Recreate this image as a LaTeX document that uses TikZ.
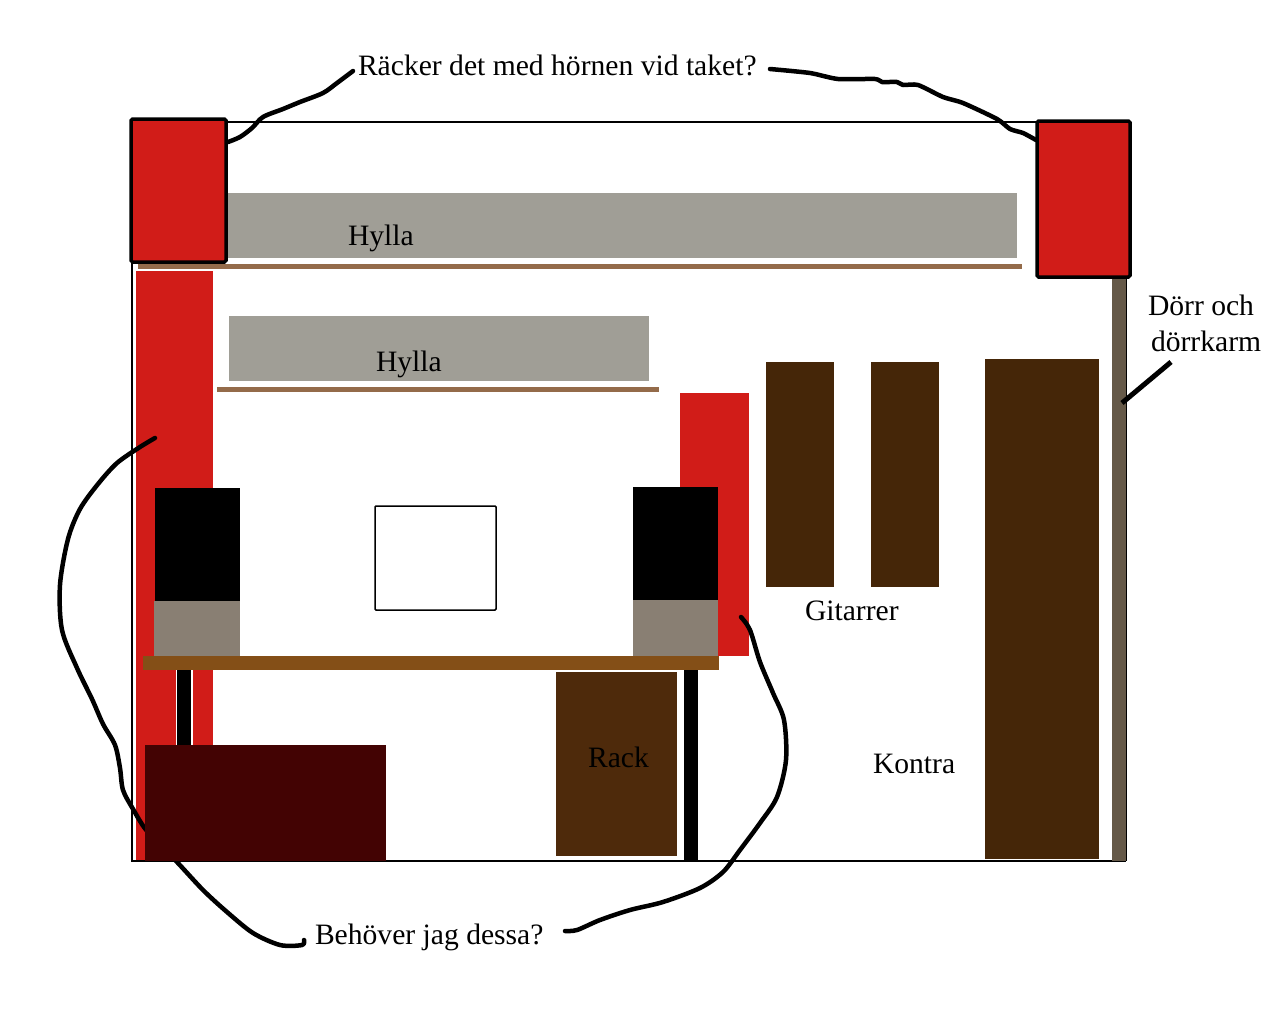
\documentclass[tikz,border=0pt]{standalone}
\usepackage{fontspec}
\setmainfont{Liberation Serif}
\definecolor{redc}{HTML}{D11C18}
\definecolor{shelfgray}{HTML}{A09E96}
\definecolor{shelfbrown}{HTML}{946B4A}
\definecolor{guitar}{HTML}{452608}
\definecolor{rackc}{HTML}{4E2A0B}
\definecolor{tablec}{HTML}{844F17}
\definecolor{spk}{HTML}{897F73}
\definecolor{darkred}{HTML}{430303}
\definecolor{doorc}{HTML}{655948}
\tikzset{
  x=1pt,y=-1pt,
  wall/.style={draw=black,line width=1.5pt},
  box/.style={fill=#1,draw=none},
  trap/.style={fill=redc,draw=black,line width=3.5pt,rounded corners=1.5pt},
  scribble/.style={draw=black,line width=4.5pt,line cap=round,line join=round},
  lbl/.style={anchor=base west,inner sep=0pt,outer sep=0pt,font=\fontsize{29.6}{29.6}\selectfont}
}
\begin{document}
\begin{tikzpicture}
\useasboundingbox (0,0) rectangle (1276,1020);
\fill[white] (0,0) rectangle (1276,1020);
% room
\draw[wall] (132,122) -- (132,861) -- (1126,861);
\draw[wall] (132,122) -- (1036,122);
% door
\fill[doorc] (1112,277) rectangle (1126,861);
\draw[line width=1pt] (1126.5,277) -- (1126.5,861);
% shelves
\fill[shelfgray] (228,193) rectangle (1017,258);
\fill[shelfbrown] (138,264) rectangle (1022,269);
\fill[shelfgray] (229,316) rectangle (649,381);
\fill[shelfbrown] (217,387) rectangle (659,392);
% red absorbers
\fill[redc] (136,271) rectangle (213,860);
\fill[redc] (680,393) rectangle (749,656);
% guitars, contra
\fill[guitar] (766,362) rectangle (834,587);
\fill[guitar] (871,362) rectangle (939,587);
\fill[guitar] (985,359) rectangle (1099,859);
% monitor
\draw[black,fill=white,line width=1.5pt,rounded corners=1pt] (375,506) rectangle (496,610);
% legs
\fill[white] (176,670) rectangle (193,745);
\fill[black] (177,670) rectangle (191,745);
\fill[black] (684,670) rectangle (698,861);
% speakers
\fill[black] (155,488) rectangle (240,601);
\fill[spk] (154,601) rectangle (240,657);
\fill[black] (633,487) rectangle (718,600);
\fill[spk] (633,600) rectangle (718,656);
% table
\fill[tablec] (143,656) rectangle (719,670);
% rack
\fill[rackc] (556,672) rectangle (677,856);
% scribbles (left one runs under the sofa)
\draw[scribble] plot[smooth,tension=0.5] coordinates {(155,438) (140,447) (117,463) (98,484) (80,509) (68,539) (60,585) (62,630) (77,668) (92,699) (103,724) (115,745) (120,768) (123,790) (133,809) (147,831) (177,862) (203,890) (227,912) (253,933) (280,945) (302,945) (304,940)};
\fill[darkred] (145,745) rectangle (386,861);
\draw[scribble] plot[smooth,tension=0.5] coordinates {(741,617) (750,630) (760,662) (773,693) (784,720) (786,760) (777,797) (760,823) (740,850) (723,872) (700,888) (663,902) (630,910) (600,920) (577,930) (565,931)};
\draw[scribble] plot[smooth,tension=0.5] coordinates {(228,142) (240,137) (252,128) (263,117) (283,109) (300,102) (323,93) (337,83) (353,71)};
\draw[scribble] plot[smooth,tension=0.4] coordinates {(770,69) (810,73) (838,79) (875,79) (882,82) (897,82) (903,85) (918,85) (943,97) (963,103) (997,119) (1010,129) (1023,133) (1036,140)};
% corner traps
\draw[trap] (131,119) rectangle (226,262);
\draw[trap] (1037,121) rectangle (1130,277);
% door pointer
\coordinate (doorptr) at (1122,403);
\coordinate (doorlbl) at (1171,362);
\draw[black,line width=5pt] (doorlbl) -- (doorptr);
% texts
\node[lbl] (q1) at (358,75) {Räcker det med hörnen vid taket?};
\node[lbl] (h1) at (348,245) {Hylla};
\node[lbl] (h2) at (376,371) {Hylla};
\node[lbl] (d1) at (1148,315) {Dörr och};
\node[lbl] (d2) at (1151,351) {dörrkarm};
\node[lbl] (g) at (805,620) {Gitarrer};
\node[lbl] (r) at (588,767) {Rack};
\node[lbl] (k) at (873,773) {Kontra};
\node[lbl] (q2) at (315,944) {Behöver jag dessa?};
\end{tikzpicture}
\end{document}
